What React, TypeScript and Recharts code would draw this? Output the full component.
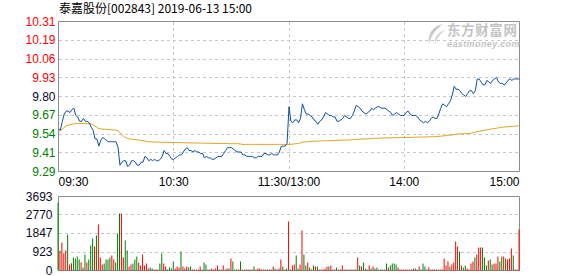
import {
  Bar,
  BarChart,
  CartesianGrid,
  Cell,
  Line,
  LineChart,
  ReferenceArea,
  XAxis,
  YAxis,
} from "recharts";

const TITLE = "泰嘉股份[002843] 2019-06-13 15:00";
const PRE_CLOSE = 9.8;
const PCT_TICKS = [5.24, 3.93, 2.62, 1.31, 0, -1.31, -2.62, -3.93, -5.24];
const TIME_TICKS = [0, 60, 120, 180, 240];
const TIME_LABELS = ["09:30", "10:30", "11:30/13:00", "14:00", "15:00"];
const VOL_TICKS = [0, 923, 1847, 2770, 3693];

// one value per minute: 09:30..11:30 then 13:01..15:00
const PRICE = [
  9.58, 9.57, 9.63, 9.68, 9.7, 9.7, 9.69, 9.71, 9.72, 9.67,
  9.66, 9.63, 9.63, 9.65, 9.63, 9.63, 9.62, 9.59, 9.57, 9.51,
  9.51, 9.46, 9.5, 9.52, 9.51, 9.5, 9.49, 9.49, 9.49, 9.49,
  9.49, 9.45, 9.33, 9.35, 9.36, 9.36, 9.32, 9.33, 9.36, 9.36,
  9.35, 9.33, 9.33, 9.35, 9.35, 9.39, 9.38, 9.36, 9.37, 9.36,
  9.37, 9.36, 9.36, 9.37, 9.39, 9.43, 9.41, 9.41, 9.39, 9.37,
  9.37, 9.38, 9.39, 9.4, 9.4, 9.42, 9.44, 9.45, 9.43, 9.43,
  9.42, 9.43, 9.42, 9.42, 9.41, 9.41, 9.38, 9.39, 9.38, 9.38,
  9.37, 9.37, 9.38, 9.39, 9.39, 9.39, 9.41, 9.43, 9.45, 9.45,
  9.45, 9.44, 9.43, 9.42, 9.42, 9.42, 9.4, 9.4, 9.39, 9.39,
  9.39, 9.39, 9.38, 9.38, 9.39, 9.39, 9.39, 9.41, 9.41, 9.4,
  9.4, 9.41, 9.4, 9.4, 9.4, 9.42, 9.46, 9.46, 9.46, 9.48,
  9.73,
  9.63, 9.62, 9.64, 9.64, 9.62, 9.65, 9.75, 9.71, 9.68, 9.68,
  9.67, 9.66, 9.64, 9.63, 9.61, 9.63, 9.64, 9.66, 9.69, 9.68,
  9.67, 9.67, 9.66, 9.66, 9.63, 9.63, 9.64, 9.65, 9.67, 9.66,
  9.65, 9.65, 9.67, 9.7, 9.74, 9.73, 9.72, 9.7, 9.69, 9.68,
  9.69, 9.7, 9.72, 9.71, 9.72, 9.73, 9.73, 9.72, 9.72, 9.72,
  9.71, 9.7, 9.69, 9.67, 9.68, 9.69, 9.68, 9.67, 9.67, 9.67,
  9.69, 9.7, 9.68, 9.67, 9.67, 9.67, 9.66, 9.64, 9.63, 9.62,
  9.63, 9.62, 9.63, 9.65, 9.66, 9.65, 9.65, 9.68, 9.72, 9.75,
  9.74, 9.73, 9.75, 9.77, 9.81, 9.87, 9.85, 9.85, 9.84, 9.82,
  9.81, 9.8, 9.82, 9.84, 9.84, 9.82, 9.84, 9.92, 9.92, 9.9,
  9.88, 9.88, 9.91, 9.9, 9.89, 9.91, 9.92, 9.93, 9.9, 9.89,
  9.89, 9.88, 9.89, 9.91, 9.92, 9.91, 9.92, 9.92, 9.92, 9.92,
];

const AVG = [
  9.562, 9.568, 9.574, 9.59, 9.598, 9.604, 9.607, 9.61, 9.613, 9.614,
  9.615, 9.615, 9.615, 9.615, 9.615, 9.614, 9.613, 9.612, 9.606, 9.597,
  9.588, 9.58, 9.578, 9.577, 9.576, 9.575, 9.574, 9.573, 9.572, 9.571,
  9.57, 9.565, 9.552, 9.54, 9.527, 9.518, 9.512, 9.509, 9.508, 9.507,
  9.506, 9.503, 9.501, 9.499, 9.497, 9.495, 9.492, 9.49, 9.49, 9.489,
  9.489, 9.488, 9.488, 9.487, 9.487, 9.487, 9.486, 9.486, 9.486, 9.485,
  9.485, 9.485, 9.485, 9.484, 9.484, 9.484, 9.483, 9.483, 9.483, 9.482,
  9.482, 9.482, 9.482, 9.481, 9.481, 9.481, 9.48, 9.48, 9.48, 9.48,
  9.479, 9.479, 9.479, 9.479, 9.478, 9.478, 9.478, 9.478, 9.478, 9.477,
  9.477, 9.477, 9.477, 9.477, 9.476, 9.474, 9.472, 9.472, 9.472, 9.472,
  9.472, 9.472, 9.472, 9.472, 9.472, 9.472, 9.472, 9.472, 9.472, 9.472,
  9.472, 9.472, 9.472, 9.472, 9.472, 9.472, 9.472, 9.472, 9.472, 9.472,
  9.472,
  9.473, 9.474, 9.476, 9.477, 9.478, 9.483, 9.487, 9.489, 9.49, 9.491,
  9.492, 9.493, 9.494, 9.494, 9.495, 9.495, 9.496, 9.496, 9.497, 9.497,
  9.498, 9.498, 9.499, 9.499, 9.5, 9.5, 9.5, 9.501, 9.501, 9.501,
  9.502, 9.503, 9.504, 9.505, 9.506, 9.507, 9.508, 9.509, 9.509, 9.51,
  9.511, 9.511, 9.512, 9.513, 9.513, 9.514, 9.515, 9.515, 9.516, 9.516,
  9.517, 9.517, 9.517, 9.518, 9.518, 9.518, 9.519, 9.519, 9.519, 9.519,
  9.519, 9.52, 9.52, 9.52, 9.521, 9.521, 9.522, 9.522, 9.522, 9.523,
  9.523, 9.523, 9.524, 9.524, 9.524, 9.525, 9.526, 9.527, 9.528, 9.53,
  9.531, 9.532, 9.534, 9.535, 9.537, 9.54, 9.542, 9.543, 9.544, 9.545,
  9.545, 9.546, 9.546, 9.547, 9.55, 9.553, 9.556, 9.56, 9.562, 9.565,
  9.567, 9.569, 9.571, 9.574, 9.576, 9.579, 9.581, 9.583, 9.585, 9.587,
  9.59, 9.591, 9.592, 9.593, 9.594, 9.595, 9.596, 9.597, 9.599, 9.601,
];

const VOLUME = [
  3393, 998, 1397, 865, 998, 1796, 299, 366, 649, 599,
  698, 549, 416, 150, 798, 399, 549, 1247, 1596, 1197,
  1746, 2295, 649, 299, 349, 549, 549, 649, 748, 549,
  399, 1846, 2844, 2844, 649, 1497, 998, 200, 299, 349,
  549, 698, 399, 249, 798, 249, 349, 100, 150, 100,
  50, 50, 50, 349, 848, 349, 200, 50, 150, 100,
  449, 100, 200, 150, 948, 200, 100, 200, 150, 200,
  50, 50, 50, 50, 200, 50, 399, 299, 50, 50,
  100, 50, 100, 249, 50, 50, 249, 50, 100, 100,
  599, 449, 50, 50, 50, 449, 50, 50, 50, 50,
  50, 50, 200, 50, 100, 100, 50, 50, 50, 50,
  50, 50, 200, 100, 50, 100, 549, 200, 50, 100, 2445,
  50, 249, 299, 748, 100, 299, 1996, 798, 249, 399,
  150, 50, 249, 200, 200, 50, 50, 50, 100, 200,
  200, 249, 50, 50, 150, 50, 50, 249, 50, 50,
  50, 50, 50, 50, 50, 649, 249, 200, 399, 100,
  50, 249, 100, 200, 100, 150, 50, 50, 50, 50,
  349, 150, 249, 349, 349, 299, 150, 50, 50, 50,
  50, 50, 50, 50, 100, 100, 50, 200, 50, 349,
  200, 50, 150, 50, 50, 50, 50, 50, 50, 50,
  599, 249, 449, 200, 299, 399, 1447, 1197, 948, 249,
  150, 249, 100, 50, 349, 449, 649, 798, 1148, 1148,
  1148, 649, 249, 499, 549, 299, 349, 349, 698, 449,
  698, 698, 599, 549, 599, 1097, 748, 50, 50, 2045,
];

// r = up minute (red), g = down minute (green)
const VOL_DIR = [
  "grrrrgrrgg", "ggrggrgggr", "grrrggggrr", "gggrrggrrg", "ggrrrrrrgg",
  "rrrggrrggg", "grrrgrrrgg", "rrrrrrgggr", "rrrrrgrrrg", "rggrrgrggr",
  "rggrrrrrrg", "grrgrrrgrgr",
  "grrggrrggr", "grgrgrrrrr", "grrrgrrrrg", "rrgrgrgrgg", "rrgrggrggr",
  "grggggrrrr", "rrrrgrgrgg", "grrrrrrgrr", "rrrgrrrrgr", "ggrrrrgrrr",
  "gggrggrrrg", "grgrrrgrrr",
].join("");

const RED = "#ff0000";
const GREEN = "#008000";
const DARK = "#0a0a2a";
const FONT = "'Liberation Sans', Arial, sans-serif";

const priceRows = PRICE.map((price, m) => ({ m, price, avg: AVG[m] }));
const volumeRows = VOLUME.map((vol, m) => ({ m, vol, up: VOL_DIR[m] === "r" }));
const priceTicks = PCT_TICKS.map((p) => PRE_CLOSE * (1 + p / 100));
const priceDomain = [priceTicks[priceTicks.length - 1], priceTicks[0]];

function PriceTick({ x, y, payload }: any) {
  const v = payload.value as number;
  const fill = v > PRE_CLOSE + 0.001 ? RED : v < PRE_CLOSE - 0.001 ? GREEN : DARK;
  return (
    <text x={x} y={y} dy={4} textAnchor="end" fill={fill} fontSize={12} fontFamily={FONT}>
      {v.toFixed(2)}
    </text>
  );
}

function PctTick({ x, y, payload }: any) {
  const v = payload.value as number;
  const fill = v > 0.001 ? RED : v < -0.001 ? GREEN : DARK;
  return (
    <text x={x} y={y} dy={4} textAnchor="start" fill={fill} fontSize={12} fontFamily={FONT}>
      {Math.abs(v).toFixed(2)}%
    </text>
  );
}

function TimeTick({ x, y, payload, index }: any) {
  const anchor = index === 0 ? "start" : index === TIME_TICKS.length - 1 ? "end" : "middle";
  return (
    <text x={x} y={y} dy={14.5} textAnchor={anchor} fill="#000" fontSize={12} fontFamily={FONT}>
      {TIME_LABELS[TIME_TICKS.indexOf(payload.value)]}
    </text>
  );
}

function VolTick({ x, y, payload }: any) {
  return (
    <text x={x} y={y} dy={4} textAnchor="end" fill={DARK} fontSize={12} fontFamily={FONT}>
      {payload.value}
    </text>
  );
}

export default function App() {
  return (
    <div style={{ position: "absolute", left: 0, top: 0, width: 578, height: 276, background: "#fff", overflow: "hidden" }}>
      <div
        style={{
          position: "absolute",
          left: 59,
          top: 1,
          fontSize: 12,
          lineHeight: "14px",
          fontFamily: "'Noto Sans CJK SC', sans-serif",
          color: "#000",
          whiteSpace: "nowrap",
        }}
      >
        {TITLE}
      </div>

      <div style={{ position: "absolute", left: 0, top: 0 }}>
        <LineChart width={578} height={192} data={priceRows} margin={{ top: 21.5, right: 0, bottom: 0, left: 0 }}>
          <CartesianGrid yAxisId="left" stroke="#c8c8c8" strokeDasharray="3 3" shapeRendering="crispEdges" />
          <XAxis
            dataKey="m"
            type="number"
            domain={[0, 240]}
            ticks={TIME_TICKS}
            interval={0}
            height={20.5}
            axisLine={false}
            tickLine={false}
            tickSize={0}
            tickMargin={0}
            tick={<TimeTick />}
          />
          <YAxis
            yAxisId="left"
            type="number"
            domain={priceDomain}
            ticks={priceTicks}
            interval={0}
            width={58.5}
            axisLine={false}
            tickLine={false}
            tickSize={3}
            tickMargin={0}
            tick={<PriceTick />}
          />
          <YAxis
            yAxisId="right"
            orientation="right"
            type="number"
            domain={[PCT_TICKS[PCT_TICKS.length - 1], PCT_TICKS[0]]}
            ticks={PCT_TICKS}
            interval={0}
            width={58.5}
            axisLine={false}
            tickLine={false}
            tickSize={5}
            tickMargin={0}
            tick={<PctTick />}
          />
          <ReferenceArea
            yAxisId="left"
            x1={0}
            x2={240}
            y1={priceDomain[0]}
            y2={priceDomain[1]}
            fill="none"
            stroke="#8c8c8c"
            strokeWidth={1}
          />
          <Line yAxisId="left" dataKey="avg" stroke="#e0a11a" strokeWidth={1} dot={false} isAnimationActive={false} />
          <Line yAxisId="left" dataKey="price" stroke="#0b4fa3" strokeWidth={1} dot={false} isAnimationActive={false} />
        </LineChart>
      </div>

      <div style={{ position: "absolute", left: 423, top: 22, color: "#c4c4c4", fontFamily: "'Noto Sans CJK SC', sans-serif" }}>
        <svg width={24} height={24} style={{ position: "absolute", left: 0, top: 0 }}>
          <path d="M20 2 C10 4 4 12 6 22 C8 14 12 8 20 2 Z" fill="#c8c8c8" />
          <path d="M22 8 C15 10 11 15 12 22 C14 16 17 12 22 8 Z" fill="#d4d4d4" />
        </svg>
        <div style={{ position: "absolute", left: 24, top: 0, fontSize: 13.5, fontWeight: 700, lineHeight: "15px", whiteSpace: "nowrap", letterSpacing: 0.6 }}>
          东方财富网
        </div>
        <div style={{ position: "absolute", left: 24, top: 18, fontSize: 9, fontWeight: 700, fontStyle: "italic", lineHeight: "9px", fontFamily: FONT, whiteSpace: "nowrap", letterSpacing: 0.4 }}>
          eastmoney.com
        </div>
      </div>

      <div style={{ position: "absolute", left: 0, top: 190 }}>
        <BarChart width={578} height={86} data={volumeRows} margin={{ top: 6.5, right: 58.5, bottom: 5.5, left: 0 }}>
          <CartesianGrid stroke="#c8c8c8" strokeDasharray="3 3" shapeRendering="crispEdges" />
          <XAxis dataKey="m" type="number" domain={[0, 240]} ticks={TIME_TICKS} interval={0} height={0} tick={false} axisLine={false} tickLine={false} />
          <YAxis
            type="number"
            domain={[0, VOL_TICKS[VOL_TICKS.length - 1]]}
            ticks={VOL_TICKS}
            interval={0}
            width={58.5}
            axisLine={false}
            tickLine={false}
            tickSize={6}
            tickMargin={0}
            tick={<VolTick />}
          />
          <ReferenceArea x1={0} x2={240} y1={0} y2={3693} fill="none" stroke="#8c8c8c" strokeWidth={1} />
          <Bar dataKey="vol" barSize={1} isAnimationActive={false}>
            {volumeRows.map((row) => (
              <Cell key={row.m} fill={row.up ? RED : GREEN} />
            ))}
          </Bar>
        </BarChart>
      </div>
    </div>
  );
}
